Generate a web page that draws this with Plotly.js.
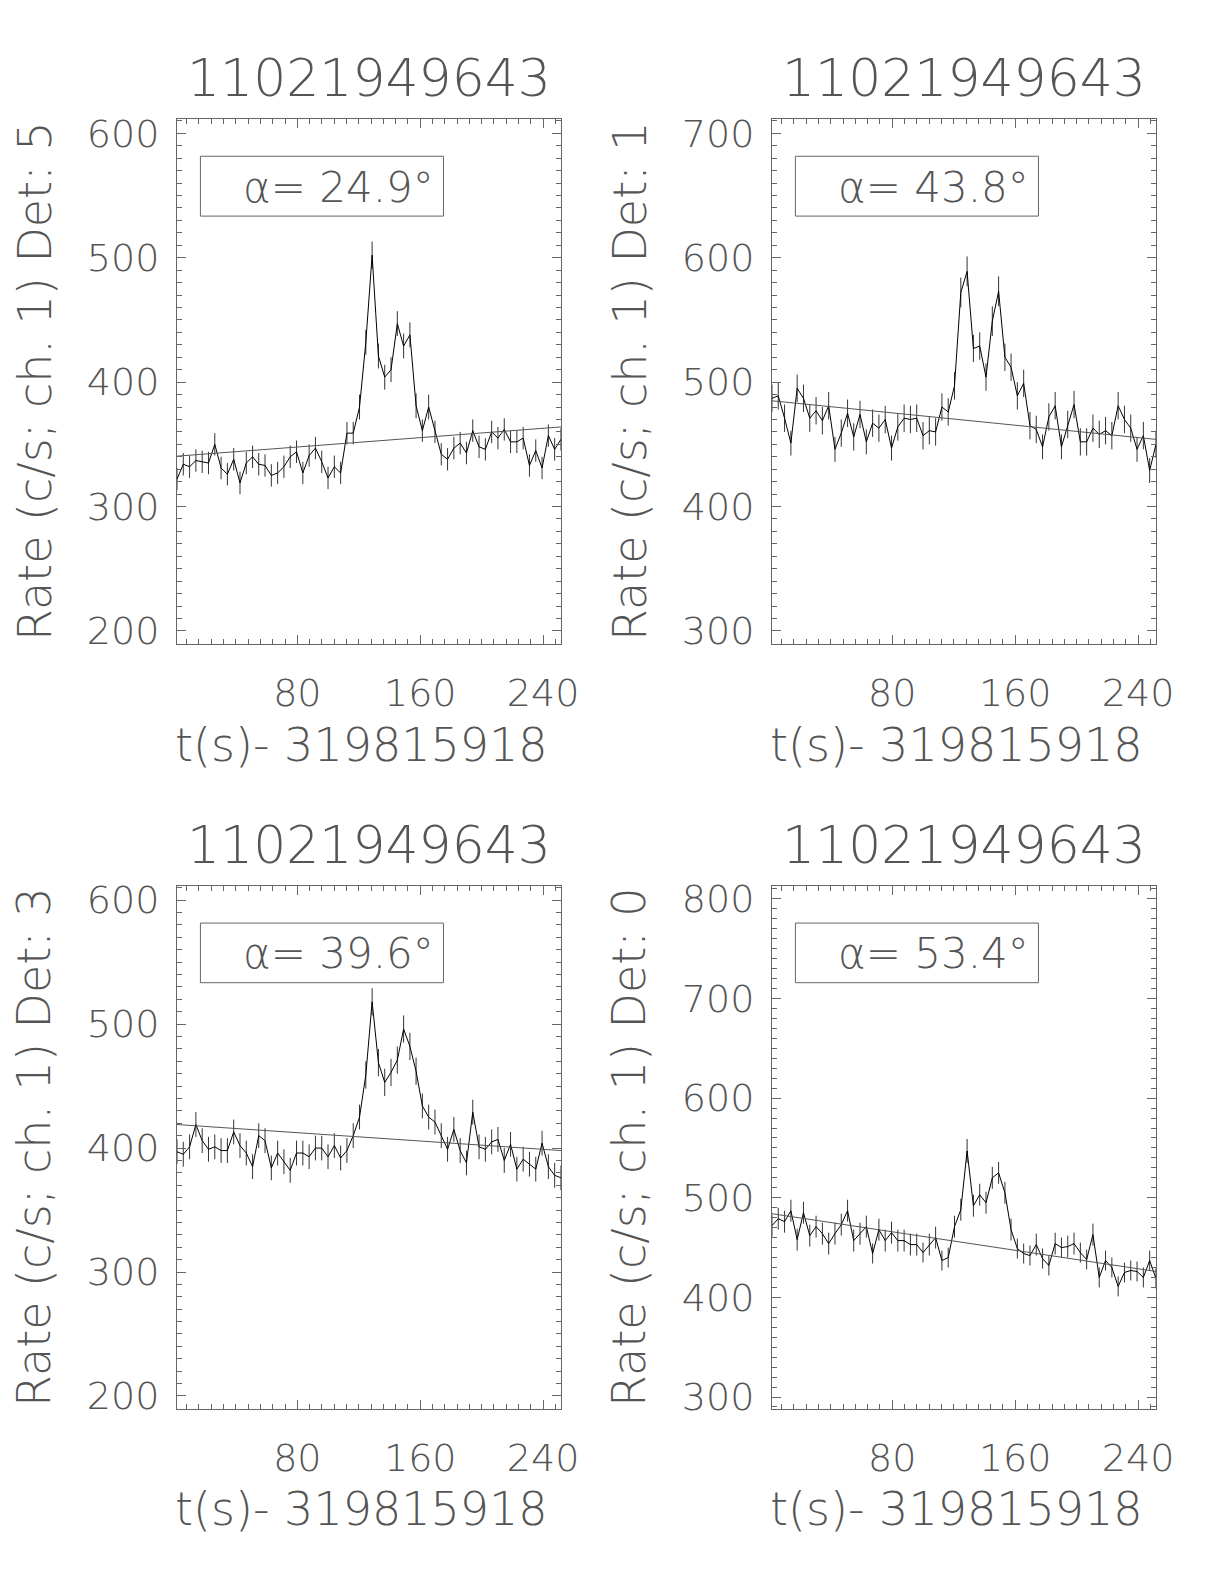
<!DOCTYPE html>
<html>
<head>
<meta charset="utf-8">
<script src="https://cdn.plot.ly/plotly-3.0.1.min.js"></script>
<style>html,body{margin:0;padding:0;background:#fff;}#chart{width:1224px;height:1584px;}</style>
</head>
<body>
<div id="chart"></div>
<script>
// bin times, t(s) - 319815918
const timeSec = [1.7,5.8,9.9,14.0,18.1,22.2,26.3,30.4,34.5,38.6,42.7,46.8,50.9,54.9,59.0,63.1,67.2,71.3,75.4,79.5,83.6,87.7,91.8,95.9,100.0,104.1,108.2,112.3,116.4,120.5,124.6,128.7,132.8,136.9,141.0,145.1,149.2,153.3,157.3,161.4,165.5,169.6,173.7,177.8,181.9,186.0,190.1,194.2,198.3,202.4,206.5,210.6,214.7,218.8,222.9,227.0,231.1,235.2,239.3,243.4,247.5,251.6];

// Det 5
const rateDet5 = [322,334,332,337,336,335,350,331,326,338,319,335,340,334,333,325,327,332,340,344,327,341,347,336,323,332,327,359,359,380,432,502,421,404,410,447,429,438,381,361,380,360,342,338,347,351,343,361,348,346,360,355,362,352,352,355,333,345,331,357,346,354];
const errDet5 = [9,9,9,9,9,9,9,9,9,9,9,9,9,9,9,9,9,9,9,9,9,9,9,9,9,9,9,9,9,10,10,11,10,10,10,10,10,10,10,9,10,9,9,9,9,9,9,9,9,9,9,9,9,9,9,9,9,9,9,9,9,9];
const fitDet5 = [340.5,364];

// Det 1
const rateDet1 = [487,489,471,451,495,487,471,477,469,481,446,459,475,456,474,452,467,463,470,447,464,471,470,471,457,461,460,480,476,497,572,589,527,529,504,549,573,520,512,489,499,465,462,448,472,481,448,466,482,452,452,463,458,461,457,481,470,463,446,457,429,450];
const errDet1 = [11,11,11,10,11,11,11,11,11,11,10,11,11,11,11,10,11,11,11,10,11,11,11,11,11,11,11,11,11,11,12,12,11,11,11,12,12,11,11,11,11,11,11,10,11,11,10,11,11,11,11,11,11,11,11,11,11,11,10,11,10,11];
const fitDet1 = [485,454];

// Det 3
const rateDet3 = [397,395,401,419,406,399,401,398,398,413,402,396,385,410,406,384,396,389,382,396,396,393,400,400,393,402,392,398,410,425,459,518,469,453,461,471,496,482,462,434,425,421,410,399,415,398,388,429,401,399,405,407,390,403,383,391,387,383,404,385,378,376];
const errDet3 = [10,10,10,10,10,10,10,10,10,10,10,10,10,10,10,10,10,10,10,10,10,10,10,10,10,10,10,10,10,10,11,11,11,11,11,11,11,11,11,10,10,10,10,10,10,10,10,10,10,10,10,10,10,10,10,10,10,10,10,10,10,10];
const fitDet3 = [419,398];

// Det 0
const rateDet0 = [472,479,476,487,458,485,462,471,464,454,464,473,487,457,464,471,444,468,457,465,457,457,453,453,445,453,460,437,440,471,488,547,492,503,495,520,525,505,468,449,444,442,453,439,432,454,450,451,454,445,438,463,420,437,430,411,425,427,426,420,437,419];
const errDet0 = [11,11,11,11,11,11,11,11,11,11,11,11,11,11,11,11,10,11,11,11,11,11,11,11,10,11,11,10,10,11,11,12,11,11,11,11,11,11,11,10,10,10,11,10,10,11,10,11,11,10,10,11,10,10,10,10,10,10,10,10,10,10];
const fitDet0 = [484,426];

const fitTime = [1.7,251.6];
const titleText = '11021949643';
const detLabels = ['5','1','3','0'];
const alphaLabels = ['24.9','43.8','39.6','53.4'];
const yRanges = [[189.5,611.5],[289.5,711.5],[189.5,611.5],[288,813]];

const panels = [
  {rate: rateDet5, err: errDet5, fit: fitDet5},
  {rate: rateDet1, err: errDet1, fit: fitDet1},
  {rate: rateDet3, err: errDet3, fit: fitDet3},
  {rate: rateDet0, err: errDet0, fit: fitDet0}
];

const FONT = 'DejaVu Sans ExtraLight, DejaVu Sans Light, DejaVu Sans, sans-serif';
const TXT = '#555';
const AX = '#666';

const colDom = [[0.1446,0.4583],[0.6307,0.9444]];
const rowDom = [[0.5934,0.9249],[0.1105,0.4407]];

const traces = [];
const layout = {
  width: 1224, height: 1584,
  margin: {l:0, r:0, t:0, b:0},
  paper_bgcolor: '#fff', plot_bgcolor: '#fff',
  showlegend: false, hovermode: false,
  font: {family: FONT, color: TXT},
  annotations: [], shapes: []
};

panels.forEach((p, k) => {
  const n = k + 1;
  const xa = 'x' + (n === 1 ? '' : n), ya = 'y' + (n === 1 ? '' : n);
  const xk = 'xaxis' + (n === 1 ? '' : n), yk = 'yaxis' + (n === 1 ? '' : n);
  const col = k % 2, row = Math.floor(k / 2);

  traces.push({
    x: timeSec, y: p.rate, xaxis: xa, yaxis: ya,
    type: 'scatter', mode: 'lines',
    line: {color: '#000', width: 1},
    error_y: {type: 'data', array: p.err, visible: true, color: '#333', thickness: 1, width: 0}
  });
  traces.push({
    x: fitTime, y: p.fit, xaxis: xa, yaxis: ya,
    type: 'scatter', mode: 'lines',
    line: {color: '#555', width: 1}
  });

  layout[xk] = {
    domain: colDom[col], anchor: ya,
    range: [fitTime[0], fitTime[1]],
    tick0: 0, dtick: 80,
    ticks: 'inside', ticklen: 9, tickcolor: AX, tickwidth: 1,
    minor: {dtick: 8, ticks: 'inside', ticklen: 5, tickcolor: AX, tickwidth: 1},
    showline: true, linecolor: AX, linewidth: 1, mirror: 'ticks',
    showgrid: false, zeroline: false,
    tickfont: {size: 38, color: TXT, family: FONT},
    ticklabelstandoff: 15
  };
  layout[yk] = {
    domain: rowDom[row], anchor: xa,
    range: yRanges[k],
    tick0: 0, dtick: 100,
    ticks: 'inside', ticklen: 9, tickcolor: AX, tickwidth: 1,
    minor: {dtick: 10, ticks: 'inside', ticklen: 5, tickcolor: AX, tickwidth: 1},
    showline: true, linecolor: AX, linewidth: 1, mirror: 'ticks',
    showgrid: false, zeroline: false,
    tickfont: {size: 38, color: TXT, family: FONT},
    ticklabelstandoff: 9
  };

  const xd = xa + ' domain', yd = ya + ' domain';
  layout.annotations.push({
    xref: xd, yref: yd, x: 0.5, y: 1.078, xanchor: 'center', yanchor: 'middle',
    text: titleText, showarrow: false,
    font: {size: 52, color: TXT, family: FONT}
  });
  layout.annotations.push({
    xref: xd, yref: yd, x: 0.48, y: -0.192, xanchor: 'center', yanchor: 'middle',
    text: 't(s)- 319815918', showarrow: false,
    font: {size: 46, color: TXT, family: FONT}
  });
  layout.annotations.push({
    xref: xd, yref: yd, x: -0.371, y: 0.5, xanchor: 'center', yanchor: 'middle',
    textangle: -90,
    text: 'Rate (c/s; ch. 1) Det: ' + detLabels[k], showarrow: false,
    font: {size: 46, color: TXT, family: FONT}
  });
  layout.shapes.push({
    type: 'rect', xref: xd, yref: yd, x0: 0.061, x1: 0.694, y0: 0.815, y1: 0.929,
    line: {color: AX, width: 1}, fillcolor: 'rgba(0,0,0,0)'
  });
  layout.annotations.push({
    xref: xd, yref: yd, x: 0.42, y: 0.870, xanchor: 'center', yanchor: 'middle',
    text: 'α= ' + alphaLabels[k] + '°', showarrow: false,
    font: {size: 42, color: TXT, family: FONT}
  });
});

Plotly.newPlot('chart', traces, layout, {staticPlot: true, displayModeBar: false});
</script>
</body>
</html>
